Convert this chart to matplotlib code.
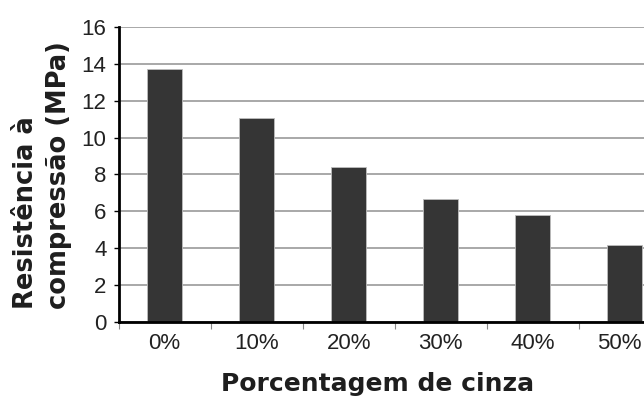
import matplotlib
matplotlib.use("Agg")
import matplotlib.pyplot as plt
import matplotlib.transforms as mtransforms
import numpy as np

plt.rcParams['font.family'] = ['Liberation Sans', 'DejaVu Sans']

categories = ['0%', '10%', '20%', '30%', '40%', '50%']
resistencia = [13.75, 11.05, 8.38, 6.64, 5.80, 4.14]
yticks = [0, 2, 4, 6, 8, 10, 12, 14, 16]

W, H = 644, 397
fig = plt.figure(figsize=(W / 100, H / 100), dpi=100)
left, right, bottom, top = 118.5, 671, 321.5, 27.3
ax = fig.add_axes([left / W, 1 - bottom / H, (right - left) / W, (bottom - top) / H])

x = np.arange(len(categories))
ax.bar(x, resistencia, width=0.38, color='#353535', edgecolor='#bdbdbd', linewidth=0.6, zorder=3)

ax.set_xlim(-0.5, len(categories) - 0.5)
ax.set_ylim(0, 16)
ax.set_yticks(yticks)
ax.set_yticklabels([str(v) for v in yticks], fontsize=16, color='#222222')
ax.yaxis.grid(True, color='#9a9a9a', linewidth=1.2, zorder=0)
ax.set_axisbelow(True)

# category labels centred, tick marks on the boundaries
ax.set_xticks(x)
ax.set_xticklabels(categories, fontsize=16, color='#222222')
ax.tick_params(axis='x', which='major', length=0, pad=8)
ax.set_xticks(np.arange(len(categories) + 1) - 0.5, minor=True)
ax.tick_params(axis='x', which='minor', length=5, width=0.8, color='#888888', direction='out')
ax.tick_params(axis='y', length=3.6, width=1.0, color='black', direction='out', pad=5)

# keep the last category label inside the figure edge
last = ax.get_xticklabels()[-1]
last.set_transform(last.get_transform() +
                   mtransforms.ScaledTranslation(-6 / 100, 0, fig.dpi_scale_trans))

for s in ['top', 'right']:
    ax.spines[s].set_visible(False)
for s in ['left', 'bottom']:
    ax.spines[s].set_linewidth(2.0)
    ax.spines[s].set_color('black')
    ax.spines[s].set_zorder(4)

fig.text(377.5 / W, 1 - 391 / H, 'Porcentagem de cinza', ha='center', va='baseline',
         fontsize=18, fontweight='bold', color='#1e1e1e', family='DejaVu Sans')
fig.text(42.5 / W, 1 - 175.5 / H, 'Resistência à\ncompressão (MPa)', ha='center', va='center',
         rotation=90, fontsize=18.5, fontweight='bold', color='#1e1e1e', family='DejaVu Sans',
         linespacing=1.35, multialignment='left')

fig.savefig('out.png', dpi=100)
